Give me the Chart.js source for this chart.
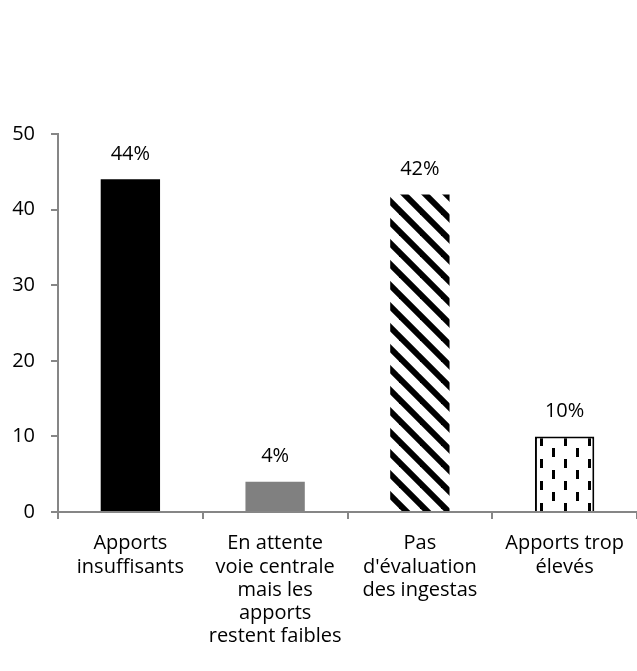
<!DOCTYPE html>
<html><head><meta charset="utf-8">
<script src="https://cdn.jsdelivr.net/npm/chart.js@4"></script>
<style>html,body{margin:0;padding:0;background:#fff}#wrap{width:637px;height:671px}</style>
</head><body><div id="wrap"><canvas id="c" width="637" height="671"></canvas></div>
<script>
const categories = [
  ["Apports", "insuffisants"],
  ["En attente", "voie centrale", "mais les", "apports", "restent faibles"],
  ["Pas", "d'évaluation", "des ingestas"],
  ["Apports trop", "élevés"]
];
const values = [44, 4, 42, 10];
const valueLabels = ["44%", "4%", "42%", "10%"];
const yTicks = [0, 10, 20, 30, 40, 50];

const FONT = "'Open Sans'";
const FS = 20;

function stripePattern() {
  const s = 21;
  const c = document.createElement('canvas'); c.width = s; c.height = s;
  const g = c.getContext('2d');
  g.fillStyle = '#fff'; g.fillRect(0,0,s,s);
  g.strokeStyle = '#000'; g.lineWidth = 6;
  for (const o of [-2*s, -s, 0, s, 2*s]) { g.beginPath(); g.moveTo(o - s, -s); g.lineTo(o + 2*s, 2*s); g.stroke(); }
  return document.createElement('canvas').getContext('2d').createPattern(c, 'repeat');
}
function dashPattern() {
  const w = 24, h = 22;
  const c = document.createElement('canvas'); c.width = w; c.height = h;
  const g = c.getContext('2d');
  g.fillStyle = '#fff'; g.fillRect(0,0,w,h);
  g.fillStyle = '#000';
  g.fillRect(12, 19, 3, 3);
  g.fillRect(12, 0, 3, 6);
  g.fillRect(0, 8, 3, 9);
  return document.createElement('canvas').getContext('2d').createPattern(c, 'repeat');
}

const labelPlugin = {
  id: 'vlabels',
  afterDatasetsDraw(chart) {
    const ctx = chart.ctx;
    const meta = chart.getDatasetMeta(0);
    ctx.save();
    ctx.font = FS + 'px ' + FONT;
    ctx.fillStyle = '#000';
    ctx.textAlign = 'center';
    ctx.textBaseline = 'middle';
    meta.data.forEach((el, i) => {
      ctx.fillText(valueLabels[i], el.x, el.y - 25);
    });
    ctx.restore();
  }
};

new Chart(document.getElementById('c'), {
  type: 'bar',
  data: {
    labels: categories,
    datasets: [{
      data: values,
      backgroundColor: ['#000000', '#808080', stripePattern(), dashPattern()],
      borderColor: ['#000000', '#808080', '#000000', '#000000'],
      borderWidth: [0, 0, 0, 2],
      borderSkipped: 'start',
      barPercentage: 0.41,
      categoryPercentage: 1
    }]
  },
  options: {
    responsive: false,
    animation: false,
    devicePixelRatio: 1,
    layout: { padding: { top: 134, right: 0, left: 0, bottom: 0 } },
    plugins: { legend: { display: false }, tooltip: { enabled: false } },
    scales: {
      x: {
        offset: true,
        border: { color: '#868686', width: 2 },
        grid: { offset: true, drawOnChartArea: false, color: '#868686', tickLength: 7, lineWidth: 2 },
        ticks: { color: '#000', font: { family: FONT, size: FS, lineHeight: 1.16 }, padding: 13, maxRotation: 0, autoSkip: false },
        afterFit(s) { s.height = 159; }
      },
      y: {
        min: 0, max: 50,
        border: { color: '#868686', width: 2 },
        grid: { drawOnChartArea: false, color: '#868686', tickLength: 7, lineWidth: 2 },
        ticks: { stepSize: 10, color: '#000', font: { family: FONT, size: FS }, padding: 16,
                 callback: (v) => yTicks.includes(v) ? String(v) : '' },
        afterFit(s) { s.width = 58; }
      }
    }
  },
  plugins: [labelPlugin]
});
</script>
</body></html>
